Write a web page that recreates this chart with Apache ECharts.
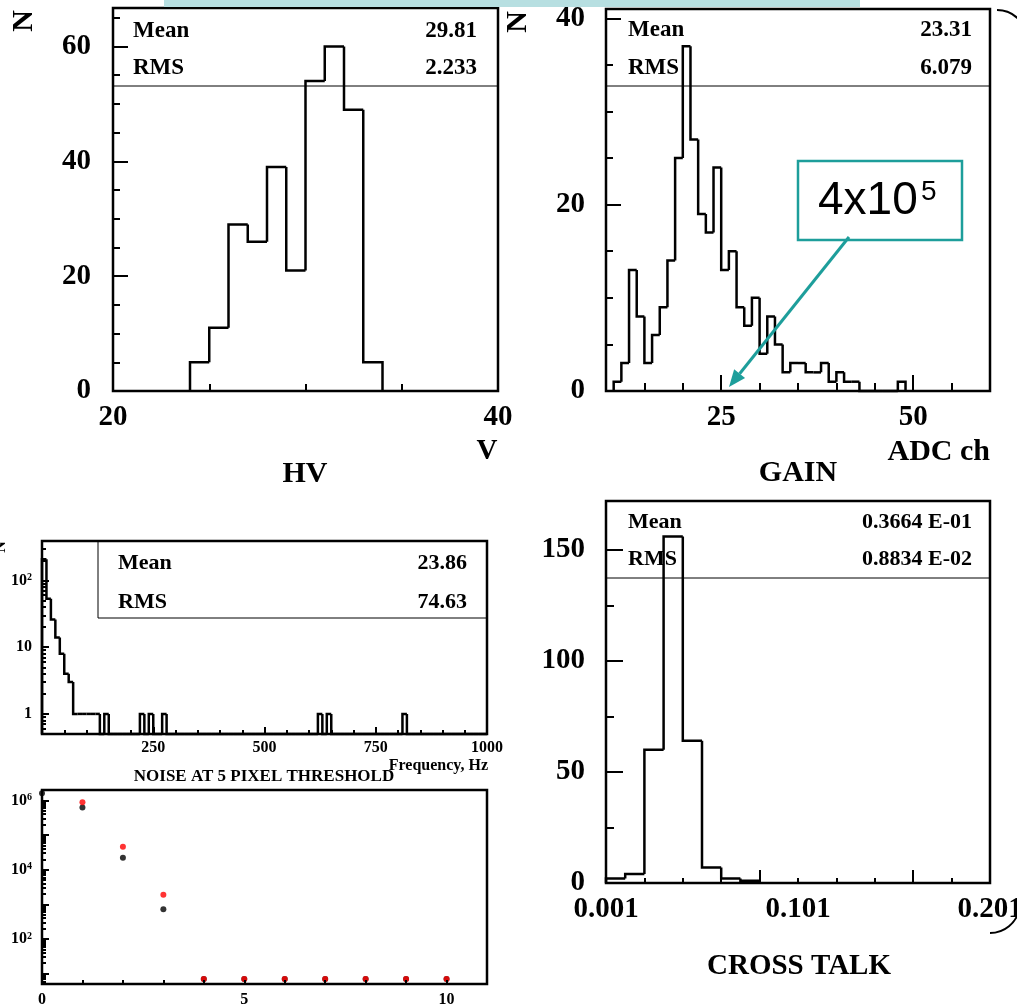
<!DOCTYPE html>
<html><head><meta charset="utf-8">
<script src="https://cdn.jsdelivr.net/npm/echarts@6/dist/echarts.min.js"></script>
<style>html,body{margin:0;padding:0;background:#fff}#c{width:1017px;height:1004px}</style>
</head><body><div id="c"></div>
<script>
// ---------------- DATA ----------------
const hvBinStart = 24, hvBinWidth = 1;
const hvCounts = [5, 11, 29, 26, 39, 21, 54, 60, 49, 5];
const hvStats = ['29.81', '2.233'];

const gainBinStart = 11, gainBinWidth = 1;
const gainCounts = [1, 3, 13, 8, 3, 6, 9, 14, 25, 37, 27, 19, 17, 24, 13, 15, 9, 7, 10, 4,
                    8, 5, 2, 3, 3, 2, 2, 3, 1, 2, 1, 1, 0, 0, 0, 0, 0, 1];
const gainStats = ['23.31', '6.079'];

const noiseBinStart = 0, noiseBinWidth = 10;
const noiseCounts = [
  208, 53, 26, 14, 8, 4, 3, 1, 1, 1,
  1, 1, 1, 0, 1, 0, 0, 0, 0, 0,
  0, 0, 1, 0, 1, 0, 0, 1, 0, 0,
  0, 0, 0, 0, 0, 0, 0, 0, 0, 0,
  0, 0, 0, 0, 0, 0, 0, 0, 0, 0,
  0, 0, 0, 0, 0, 0, 0, 0, 0, 0,
  0, 0, 1, 0, 1, 0, 0, 0, 0, 0,
  0, 0, 0, 0, 0, 0, 0, 0, 0, 0,
  0, 1, 0, 0, 0, 0, 0, 0, 0, 0,
  0, 0, 0, 0, 0, 0, 0, 0, 0, 0
];
const noiseStats = ['23.86', '74.63'];

const pixelThreshold = [0, 1, 2, 3, 4, 5, 6, 7, 8, 9, 10];
const rateBlack = [1.6e6, 6.2e5, 2.2e4, 720, 7, 7, 7, 7, 7, 7, 7];
const rateRed   = [null, 8.9e5, 4.6e4, 1900, 7, 7, 7, 7, 7, 7, 7];

const xtBinStart = 0.001, xtBinWidth = 0.01;
const xtCounts = [2, 4, 60, 156, 64, 7, 2, 1];
const xtStats = ['0.3664 E-01', '0.8834 E-02'];

// tick / label values
const hvXLabels = [20, 40], hvXMinor = [25, 30, 35];
const hvYLabels = [0, 20, 40, 60], hvYMinor = [5, 10, 15, 25, 30, 35, 45, 50, 55, 65];
const gainXLabels = [25, 50], gainXMinor = [15, 20, 30, 35, 40, 45, 55];
const gainYLabels = [0, 20, 40], gainYMinor = [5, 10, 15, 25, 30, 35];
const noiseXLabels = [250, 500, 750, 1000], noiseXMajor = [250, 500, 750];
const noiseXMinor = [50, 100, 150, 200, 300, 350, 400, 450, 550, 600, 650, 700, 800, 850, 900, 950];
const noiseYLabels = [1, 10, 100];
const rateXLabels = [0, 5, 10], rateXTicks = [1, 2, 3, 4, 5, 6, 7, 8, 9, 10];
const rateYLabels = [100, 1e4, 1e6], rateYMajor = [10, 100, 1e3, 1e4, 1e5, 1e6];
const xtXLabels = [0.001, 0.101, 0.201], xtXMajor = [0.081, 0.161];
const xtXMinor = [0.021, 0.041, 0.061, 0.101, 0.121, 0.141, 0.181];
const xtYLabels = [0, 50, 100, 150], xtYMinor = [25, 75, 125];

function logMinor(lo, hi) {
  const out = [];
  for (let d = 1e-3; d <= hi; d *= 10) for (let k = 2; k <= 9; k++) {
    const v = +(k * d).toPrecision(6);
    if (v > lo && v < hi) out.push(v);
  }
  return out;
}

// ---------------- CHART ----------------
const F = 'Liberation Serif';
const LW = 2.5;
const chart = echarts.init(document.getElementById('c'), null, {renderer: 'canvas'});

const grids = [
  {left: 113, top: 8, width: 385, height: 383},
  {left: 606, top: 9, width: 384, height: 382},
  {left: 42, top: 541, width: 445, height: 193},
  {left: 42, top: 790, width: 445, height: 194},
  {left: 606, top: 501, width: 384, height: 382}
].map(g => Object.assign(g, {show: true, borderColor: '#000', borderWidth: LW,
  backgroundColor: 'transparent', containLabel: false, outerBoundsMode: 'none'}));

const plainFmt = v => String(v);
const xAxes = [], yAxes = [];
function addAxis(list, o) {
  list.push({
    type: o.type || 'value', gridIndex: o.grid, position: o.pos, offset: 0,
    min: o.min, max: o.max, silent: true, z: 6,
    axisLine: {show: false}, splitLine: {show: false}, minorTick: {show: false},
    axisTick: o.ticks ? {show: true, inside: true, length: o.len, customValues: o.ticks,
      lineStyle: {color: '#000', width: 2}} : {show: false},
    axisLabel: o.labels ? {show: true, customValues: o.labels, margin: o.margin, color: '#000',
      fontFamily: F, fontWeight: 'bold', fontSize: o.fs, formatter: o.fmt || plainFmt, rich: o.rich,
      showMinLabel: true, showMaxLabel: true, hideOverlap: false} : {show: false}
  });
  return list.length - 1;
}
const supRich = {
  b: {fontFamily: F, fontWeight: 'bold', fontSize: 16, color: '#000'},
  s: {fontFamily: F, fontWeight: 'bold', fontSize: 10, color: '#000', verticalAlign: 'top'}
};
function logFmt(v) {
  const e = Math.round(Math.log10(v));
  if (e === 0) return '{b|1}';
  if (e === 1) return '{b|10}';
  return '{b|10}{s|' + e + '}';
}

// HV
const hvX = addAxis(xAxes, {grid: 0, pos: 'bottom', min: 20, max: 40, ticks: hvXMinor, len: 7, labels: hvXLabels, margin: 12, fs: 29});
const hvY = addAxis(yAxes, {grid: 0, pos: 'left', min: 0, max: 66.7, ticks: hvYLabels, len: 15, labels: hvYLabels, margin: 22, fs: 29});
addAxis(yAxes, {grid: 0, pos: 'left', min: 0, max: 66.7, ticks: hvYMinor, len: 7});
// GAIN
const gX = addAxis(xAxes, {grid: 1, pos: 'bottom', min: 10, max: 60, ticks: gainXLabels, len: 16, labels: gainXLabels, margin: 12, fs: 29});
addAxis(xAxes, {grid: 1, pos: 'bottom', min: 10, max: 60, ticks: gainXMinor, len: 8});
const gY = addAxis(yAxes, {grid: 1, pos: 'left', min: 0, max: 41, ticks: gainYLabels, len: 15, labels: gainYLabels, margin: 21, fs: 29});
addAxis(yAxes, {grid: 1, pos: 'left', min: 0, max: 41, ticks: gainYMinor, len: 7});
// NOISE frequency
const nX = addAxis(xAxes, {grid: 2, pos: 'bottom', min: 0, max: 1000, ticks: noiseXMajor, len: 7, labels: noiseXLabels, margin: 6, fs: 16});
addAxis(xAxes, {grid: 2, pos: 'bottom', min: 0, max: 1000, ticks: noiseXMinor, len: 4});
const nY = addAxis(yAxes, {grid: 2, pos: 'left', type: 'log', min: 0.5, max: 390, ticks: noiseYLabels, len: 7, labels: noiseYLabels, margin: 10, fs: 16, fmt: logFmt, rich: supRich});
addAxis(yAxes, {grid: 2, pos: 'left', type: 'log', min: 0.5, max: 390, ticks: logMinor(0.5, 390), len: 4});
// rate vs threshold
const rX = addAxis(xAxes, {grid: 3, pos: 'bottom', min: 0, max: 11, ticks: rateXTicks, len: 4, labels: rateXLabels, margin: 8, fs: 16});
const rY = addAxis(yAxes, {grid: 3, pos: 'left', type: 'log', min: 5, max: 2e6, ticks: rateYMajor, len: 7, labels: rateYLabels, margin: 10, fs: 16, fmt: logFmt, rich: supRich});
addAxis(yAxes, {grid: 3, pos: 'left', type: 'log', min: 5, max: 2e6, ticks: logMinor(5, 2e6), len: 4});
// CROSS TALK
const xX = addAxis(xAxes, {grid: 4, pos: 'bottom', min: 0.001, max: 0.201, ticks: xtXMajor, len: 13, labels: xtXLabels, margin: 12, fs: 29, fmt: v => v.toFixed(3)});
addAxis(xAxes, {grid: 4, pos: 'bottom', min: 0.001, max: 0.201, ticks: xtXMinor, len: 5});
const xY = addAxis(yAxes, {grid: 4, pos: 'left', min: 0, max: 172, ticks: xtYLabels, len: 17, labels: xtYLabels, margin: 21, fs: 29});
addAxis(yAxes, {grid: 4, pos: 'left', min: 0, max: 172, ticks: xtYMinor, len: 8});

function histSeries(xi, yi, start, width, counts, floor) {
  const data = counts.map((c, i) => [start + i * width, start + (i + 1) * width, c, i ? counts[i - 1] : 0]);
  const last = counts.length - 1;
  return {
    type: 'custom', xAxisIndex: xi, yAxisIndex: yi, silent: true, z: 3,
    encode: {x: [0, 1], y: [2, 3]}, data,
    renderItem(params, api) {
      const x0 = api.value(0), x1 = api.value(1);
      const v = Math.max(api.value(2), floor), pv = Math.max(api.value(3), floor);
      const pts = [api.coord([x0, pv]), api.coord([x0, v]), api.coord([x1, v])];
      if (params.dataIndex === last) pts.push(api.coord([x1, floor]));
      return {type: 'polyline', shape: {points: pts}, style: {stroke: '#000', lineWidth: LW, fill: null}};
    }
  };
}

const series = [
  histSeries(hvX, hvY, hvBinStart, hvBinWidth, hvCounts, 0),
  histSeries(gX, gY, gainBinStart, gainBinWidth, gainCounts, 0),
  histSeries(nX, nY, noiseBinStart, noiseBinWidth, noiseCounts, 0.5),
  histSeries(xX, xY, xtBinStart, xtBinWidth, xtCounts, 0),
  {type: 'scatter', xAxisIndex: rX, yAxisIndex: rY, symbol: 'circle', symbolSize: 6, z: 4, silent: true,
   itemStyle: {color: '#000'}, data: pixelThreshold.map((t, i) => [t, rateBlack[i]])},
  {type: 'scatter', xAxisIndex: rX, yAxisIndex: rY, symbol: 'circle', symbolSize: 6, z: 5, silent: true,
   itemStyle: {color: '#ff0000'}, data: pixelThreshold.map((t, i) => rateRed[i] == null ? [t, '-'] : [t, rateRed[i]])}
];

// ---------------- ANNOTATIONS ----------------
function T(text, x, y, o) {
  o = o || {};
  return {type: 'text', x, y, silent: true, z: 20, rotation: o.rot || 0,
    style: {text, fill: o.color || '#000', fontSize: o.fs || 23, fontFamily: o.family || F,
      fontWeight: o.weight || 'bold', align: o.align || 'left', verticalAlign: 'middle'}};
}
function L(x1, y1, x2, y2, w, c) {
  return {type: 'line', silent: true, z: 20, shape: {x1, y1, x2, y2}, style: {stroke: c || '#000', lineWidth: w || 1}};
}
const teal = '#1d9e9b';
const arrowFrom = [849, 237], arrowTo = [729, 387];
const ang = Math.atan2(arrowTo[1] - arrowFrom[1], arrowTo[0] - arrowFrom[0]);
const hl = 17, hw = 7;
const bx = arrowTo[0] - hl * Math.cos(ang), by = arrowTo[1] - hl * Math.sin(ang);
const head = [arrowTo, [bx + hw * Math.sin(ang), by - hw * Math.cos(ang)], [bx - hw * Math.sin(ang), by + hw * Math.cos(ang)]];

const graphic = [
  {type: 'rect', silent: true, z: 1, shape: {x: 164, y: 0, width: 696, height: 7}, style: {fill: '#b7dfe1'}},
  // HV stats
  L(113, 86, 498, 86), T('Mean', 133, 31), T(hvStats[0], 477, 31, {align: 'right'}),
  T('RMS', 133, 68), T(hvStats[1], 477, 68, {align: 'right'}),
  T('N', 24, 21, {fs: 30, rot: Math.PI / 2, align: 'center'}),
  T('V', 487, 452, {fs: 29, align: 'center'}),
  T('HV', 305, 474, {fs: 30, align: 'center'}),
  // GAIN stats
  L(606, 86, 990, 86), T('Mean', 628, 30), T(gainStats[0], 972, 30, {align: 'right'}),
  T('RMS', 628, 68), T(gainStats[1], 972, 68, {align: 'right'}),
  T('N', 518, 22, {fs: 30, rot: Math.PI / 2, align: 'center'}),
  T('ADC ch', 990, 452, {fs: 30, align: 'right'}),
  T('GAIN', 798, 473, {fs: 30, align: 'center'}),
  // annotation box + arrow
  {type: 'rect', silent: true, z: 15, shape: {x: 798, y: 161, width: 164, height: 79}, style: {fill: '#fff', stroke: teal, lineWidth: 2.5}},
  T('4x10', 818, 201, {fs: 46, weight: 'normal', family: 'Liberation Sans'}),
  T('5', 921, 192, {fs: 28, weight: 'normal', family: 'Liberation Sans'}),
  L(arrowFrom[0], arrowFrom[1], bx, by, 3, teal),
  {type: 'polygon', silent: true, z: 20, shape: {points: head}, style: {fill: teal}},
  // NOISE stats
  L(98, 541, 98, 618), L(98, 618, 487, 618),
  T('Mean', 118, 563, {fs: 22}), T(noiseStats[0], 467, 563, {fs: 22, align: 'right'}),
  T('RMS', 118, 602, {fs: 22}), T(noiseStats[1], 467, 602, {fs: 22, align: 'right'}),
  T('N', 1, 547, {fs: 16, rot: Math.PI / 2, align: 'center'}),
  T('Frequency, Hz', 488, 766, {fs: 16, align: 'right'}),
  T('NOISE AT 5 PIXEL THRESHOLD', 264, 777, {fs: 17, align: 'center'}),
  // CROSS TALK stats
  L(606, 578, 990, 578), T('Mean', 628, 522, {fs: 22}), T(xtStats[0], 972, 522, {fs: 22, align: 'right'}),
  T('RMS', 628, 559, {fs: 22}), T(xtStats[1], 972, 559, {fs: 22, align: 'right'}),
  T('CROSS TALK', 799, 967, {fs: 29, align: 'center'}),
  // slide decorations
  {type: 'arc', silent: true, z: 20, shape: {cx: 997, cy: 40, r: 30, startAngle: -Math.PI / 2, endAngle: -0.8, clockwise: true}, style: {stroke: '#000', lineWidth: 2, fill: null}},
  {type: 'arc', silent: true, z: 20, shape: {cx: 990, cy: 903, r: 30, startAngle: 0.2, endAngle: Math.PI / 2, clockwise: true}, style: {stroke: '#000', lineWidth: 2, fill: null}}
];

chart.setOption({
  animation: false,
  backgroundColor: '#fff',
  grid: grids,
  xAxis: xAxes,
  yAxis: yAxes,
  series,
  graphic
});
</script></body></html>
